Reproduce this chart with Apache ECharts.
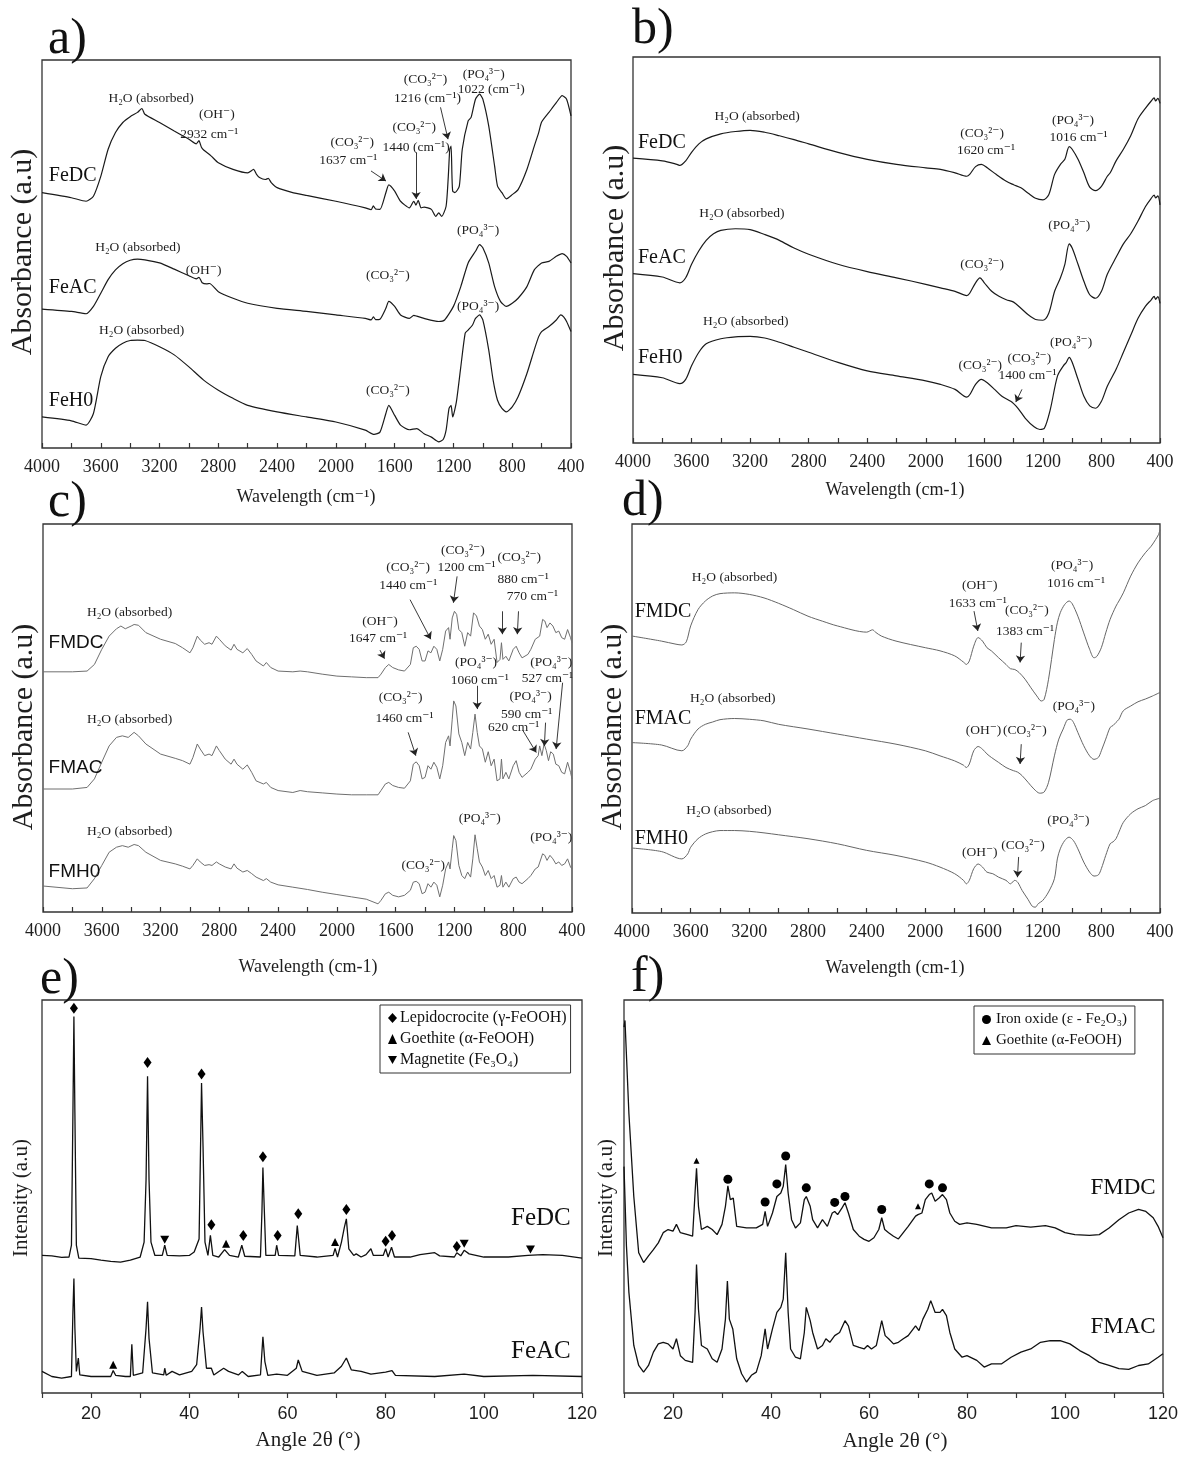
<!DOCTYPE html>
<html>
<head>
<meta charset="utf-8">
<script src="https://cdn.jsdelivr.net/npm/echarts@6/dist/echarts.min.js"></script>
<style>
  html, body { margin: 0; padding: 0; background: #fff; }
  #chart { width: 1182px; height: 1457px; }
</style>
</head>
<body>
<div id="chart"></div>
<script>
// ---------- FTIR spectra: [wavenumber cm-1, absorbance (a.u., offset)] ----------
const aFeDC = [[4000,65.8],[3800,64.5],[3700,63.6],[3650,64.9],[3600,70],[3550,77],[3500,81.3],[3450,83.9],[3400,85.4],[3350,86.5],[3320,87.5],[3300,86],[3200,83.9],[3100,81.7],[3000,79.6],[2950,78.4],[2932,79.2],[2915,77.5],[2900,76.8],[2850,75.3],[2800,73.5],[2700,71.8],[2600,70.9],[2560,71.8],[2540,70.5],[2520,69.7],[2480,69.2],[2460,69.5],[2440,68.4],[2400,67.1],[2300,65.9],[2200,65.1],[2000,63.6],[1800,61.9],[1760,61.4],[1745,62.4],[1730,61.6],[1700,61.5],[1660,65.8],[1640,67.8],[1600,66.2],[1560,63.6],[1500,61.9],[1470,63.6],[1455,62.6],[1440,63.8],[1420,61.9],[1400,62.1],[1350,61.5],[1320,59.7],[1300,60.6],[1280,59.7],[1250,62.3],[1235,70],[1225,77],[1216,77.8],[1210,70],[1205,66.2],[1190,65.8],[1160,67.5],[1140,77],[1100,84.3],[1080,85.2],[1050,89.9],[1022,91.2],[1000,89.9],[960,83],[920,72.7],[900,67.5],[870,65.8],[840,64.2],[800,65.3],[760,66.6],[700,71.8],[650,77.8],[620,81.3],[600,84],[550,86.5],[500,89],[460,90.8],[430,89.9],[400,85.6]];
const aFeAC = [[4000,35.8],[3800,35.2],[3700,34.6],[3650,36.5],[3600,39.9],[3550,43.4],[3500,45.9],[3450,47.5],[3400,48.4],[3350,48.7],[3300,48.5],[3200,47.7],[3100,46.1],[3000,44.4],[2950,43.6],[2932,44],[2910,42.6],[2880,42.3],[2860,42.4],[2800,40.3],[2700,38.6],[2600,37.3],[2400,36],[2200,35.2],[2000,34.3],[1800,33.4],[1760,33],[1745,33.8],[1730,33.1],[1700,33.2],[1660,36],[1640,37.8],[1600,36.5],[1560,34.3],[1500,33.4],[1470,34.2],[1450,34],[1400,33.4],[1300,32.6],[1260,33],[1200,36.5],[1150,41.6],[1100,47.7],[1050,50.7],[1022,52.4],[1000,51.6],[960,47.7],[920,41.6],[880,37.8],[840,36.5],[800,37.3],[760,38.6],[700,41.6],[650,45.9],[600,47.7],[550,48.1],[500,49.4],[460,50.1],[430,49.4],[400,47.7]];
const aFeH0 = [[4000,8],[3800,7],[3700,5.9],[3650,8.9],[3600,18.4],[3550,23.5],[3500,25.7],[3450,27],[3400,27.7],[3350,27.8],[3300,27.7],[3200,26.1],[3100,24],[3000,20.9],[2900,17.5],[2800,14.9],[2700,12.8],[2600,11],[2400,9.3],[2200,8],[2000,6.7],[1800,4.6],[1740,3.5],[1700,4.1],[1660,8.9],[1640,11],[1600,8.4],[1560,5.9],[1500,4.7],[1450,5],[1400,3.7],[1350,2.8],[1300,1.6],[1270,2.2],[1250,4.6],[1230,10.2],[1216,11],[1205,8],[1180,11.9],[1150,20.9],[1120,29.6],[1100,30.4],[1070,31.7],[1050,33.4],[1022,34.3],[1000,33],[960,25.3],[930,17.5],[900,12.3],[870,10.2],[840,9.3],[800,10.6],[760,13.2],[700,19.2],[650,25.3],[620,28.7],[600,30],[550,31.3],[500,33],[470,34.3],[450,33.8],[430,32.6],[400,30]];

const bFeDC = [[4000,73.8],[3800,73.1],[3700,72.2],[3680,71.9],[3640,73.1],[3600,75.3],[3550,77.5],[3500,78.8],[3400,80.1],[3300,80.7],[3200,81],[3100,80.5],[3000,79.6],[2900,78.6],[2800,77.5],[2600,75.3],[2400,73.5],[2200,72.2],[2000,71.3],[1900,70.9],[1800,70],[1720,69.1],[1700,69.6],[1660,71.6],[1620,72.2],[1580,71.3],[1520,69.6],[1450,67.8],[1400,66.9],[1350,66.1],[1300,64.7],[1250,63.4],[1200,63],[1160,64.3],[1120,69.6],[1080,72.2],[1050,73.5],[1020,76.8],[1000,76.1],[960,73.5],[920,70],[880,66.3],[840,65.4],[800,66.5],[760,69.1],[740,70],[700,73.1],[650,76.1],[600,79.6],[550,84],[500,86.7],[460,88.6],[440,89.4],[430,88.6],[415,89.3],[400,88]];
const bFeAC = [[4000,43.9],[3800,43],[3680,41.5],[3640,42.8],[3600,46.3],[3550,49.8],[3500,52.5],[3450,54.2],[3400,55.1],[3300,55.5],[3200,55.3],[3100,54],[3000,52.5],[2900,50.5],[2800,48.9],[2600,46.3],[2400,44.4],[2200,42.8],[2000,41.1],[1900,40.2],[1800,39.3],[1720,38.2],[1700,38.8],[1660,41.5],[1630,42.8],[1600,41.5],[1550,39.3],[1500,38],[1450,37.1],[1400,36.5],[1350,34.9],[1300,33.2],[1250,32],[1200,31.8],[1160,33.6],[1120,39.3],[1080,42.8],[1050,46.3],[1020,51.6],[1000,50.5],[960,46.3],[920,41.9],[880,38.4],[840,37.5],[800,39.3],[760,43.7],[700,48.1],[650,51.6],[600,54.2],[550,57.5],[500,61.2],[460,63.4],[440,64.2],[430,63.5],[415,64],[400,61.7]];
const bFeH0 = [[4000,17.8],[3800,16.9],[3680,15.4],[3640,16.5],[3600,20],[3550,23.5],[3500,25.7],[3400,27],[3300,27.5],[3200,27.6],[3100,27.2],[3000,26.1],[2900,24.8],[2800,23.5],[2600,20.9],[2400,18.7],[2200,17.4],[2000,16.1],[1900,15.2],[1800,13.9],[1720,11.9],[1700,12.5],[1660,15.2],[1620,16.5],[1580,15.6],[1530,13.9],[1480,12.1],[1420,10.8],[1400,10.2],[1370,9],[1320,6.4],[1260,4.2],[1220,3.5],[1190,3.8],[1150,8.6],[1100,17.4],[1060,20],[1040,20.9],[1020,22.2],[1000,20.9],[960,16.5],[920,12.1],[880,9.6],[840,9],[800,10.8],[760,14.7],[700,19.1],[650,23.5],[600,27.9],[550,32.3],[500,35.4],[460,37.1],[440,38],[430,37.2],[415,37.9],[400,36.2]];

const cFMDC = [[4000,61.9],[3800,61.9],[3700,62.1],[3650,63.8],[3600,67.7],[3550,71.1],[3500,73],[3470,73.7],[3440,73],[3400,73.7],[3380,74.1],[3350,73.9],[3300,72],[3200,70.3],[3100,69.2],[3050,68.1],[3000,66.8],[2980,68.1],[2950,71.1],[2930,70.1],[2900,69],[2870,69.4],[2850,69],[2820,71.1],[2800,70.3],[2760,68.6],[2720,67.5],[2700,69],[2680,67.7],[2640,66.8],[2610,67.9],[2580,66.4],[2550,64.7],[2500,63.4],[2480,64.3],[2450,63],[2400,62.1],[2300,61.9],[2250,62.1],[2200,61.9],[2100,61.3],[2000,60.8],[1900,60.6],[1800,60.4],[1720,60.4],[1700,61.3],[1670,63],[1647,63.8],[1620,63],[1580,62.4],[1540,62.1],[1500,63.8],[1480,68.1],[1460,68.5],[1440,67.7],[1420,64.7],[1400,64.7],[1380,67.3],[1360,66.8],[1340,68.5],[1320,67.7],[1300,64.7],[1280,67.7],[1260,72.4],[1240,73.3],[1230,70.3],[1215,75.8],[1200,77.5],[1185,76.7],[1170,72.8],[1150,72],[1130,68.5],[1110,72],[1090,71.1],[1070,77.1],[1050,76.3],[1030,73.7],[1010,72.8],[990,70.3],[970,71.6],[950,69],[930,70.3],[910,64.3],[890,65.1],[880,69.4],[870,65.1],[850,65.9],[830,64.7],[800,67.7],[780,68.5],[760,66.8],[740,65.5],[700,66.4],[680,67.7],[650,70.3],[620,71.1],[600,75.4],[585,75],[570,73.3],[550,74.5],[530,73.7],[510,72],[490,72.4],[470,70.7],[450,70.3],[430,72.8],[410,70.7],[400,69.4]];
const cFMAC = [[4000,31.7],[3800,31.7],[3700,32.1],[3650,34.3],[3600,38.6],[3550,42.8],[3500,45],[3460,45.4],[3420,45],[3380,46.3],[3350,45.4],[3300,43.3],[3200,40.7],[3100,39.6],[3050,39],[3000,38.1],[2980,39.8],[2950,43.3],[2930,42],[2900,40.3],[2870,40.7],[2850,40.3],[2820,42.8],[2800,41.6],[2760,39.4],[2720,38.1],[2700,39.4],[2680,38.1],[2640,36.8],[2610,37.9],[2580,36],[2550,33.8],[2500,33],[2480,33.4],[2450,32.1],[2400,31.3],[2300,30.8],[2250,31.3],[2200,31],[2100,30.7],[2000,30.4],[1900,30.2],[1800,30.2],[1720,30.2],[1700,31.3],[1670,33],[1647,33.4],[1620,32.6],[1580,32.1],[1540,31.9],[1500,33.8],[1480,38.1],[1460,38.7],[1440,37.7],[1420,34.3],[1400,34.7],[1380,37.7],[1360,36.8],[1340,38.6],[1320,37.3],[1300,34.3],[1280,37.7],[1260,43.7],[1240,45.4],[1230,42.8],[1215,49.7],[1205,54.4],[1190,53.1],[1170,45.9],[1150,43.7],[1130,40.3],[1110,43.7],[1090,42],[1075,46.3],[1060,51],[1045,46.3],[1030,42.8],[1010,42],[990,38.6],[970,41.3],[950,37.7],[930,39.4],[910,33.8],[890,34.3],[880,39.4],[870,34.3],[850,36],[830,34.3],[800,37.7],[780,39],[760,36],[740,34.7],[700,36],[680,36.8],[650,39.4],[630,40.3],[620,42.8],[605,40.3],[590,43.3],[575,41.6],[560,39],[545,41.3],[527,40.7],[510,38.1],[490,37.7],[470,36],[450,35.6],[430,38.6],[410,36],[400,34.3]];
const cFMH0 = [[4000,6.7],[3800,6],[3700,6.2],[3650,8.6],[3600,12],[3550,15.4],[3500,16.7],[3460,17.1],[3420,16.7],[3380,17.4],[3350,17.1],[3300,15.4],[3200,13.3],[3100,12.4],[3050,11.8],[3000,11.1],[2980,12],[2950,13.7],[2930,12.9],[2900,12],[2870,12.2],[2850,12],[2820,12.9],[2800,12.4],[2760,11.6],[2720,11.1],[2700,12.4],[2680,11.3],[2640,10.3],[2610,10.7],[2580,9.9],[2550,9],[2500,8.1],[2480,8.6],[2450,7.7],[2400,7],[2300,6.4],[2200,5.8],[2100,5.1],[2000,4.5],[1900,3.9],[1800,3.3],[1720,2.1],[1700,3],[1670,4.7],[1647,5.1],[1620,4.3],[1580,3.9],[1540,4.3],[1500,5.6],[1480,7.7],[1460,7.9],[1440,7.3],[1420,4.7],[1400,5.1],[1380,7.3],[1360,6.4],[1340,7.7],[1320,6.9],[1300,3.9],[1280,6.9],[1260,11.1],[1240,12.9],[1230,11.1],[1215,16.3],[1205,19.7],[1190,18.4],[1170,12],[1150,9.4],[1130,8.6],[1110,10.3],[1090,9],[1075,13.7],[1060,19.9],[1045,16.3],[1030,12.9],[1010,11.6],[990,9.4],[970,10.7],[950,8.6],[930,9.4],[910,6.4],[890,6.9],[880,9.4],[870,6.4],[850,7.7],[830,6.4],[800,8.6],[780,9],[760,7.7],[740,7.3],[700,8.6],[680,9.4],[650,11.1],[630,11.6],[600,15],[585,14.6],[570,13.3],[550,14.6],[530,13.7],[510,12.4],[490,12.9],[470,12],[450,12.4],[430,13.7],[410,11.6],[400,11.1]];

const dFMDC = [[4000,71.2],[3800,69.9],[3700,69.1],[3660,68.9],[3630,69.7],[3600,73.8],[3550,78],[3500,80.2],[3450,81.5],[3400,82.1],[3300,82.3],[3200,81.9],[3100,81],[3000,79.6],[2900,78],[2800,76.3],[2700,75],[2600,73.8],[2400,72.2],[2360,72.8],[2340,72.2],[2300,71.2],[2200,69.9],[2000,68.2],[1900,67.4],[1800,66.1],[1740,64.5],[1720,63.9],[1700,64.8],[1670,68.6],[1640,70.8],[1610,69.9],[1580,68.2],[1550,67.4],[1500,65.6],[1450,63.9],[1420,62.8],[1390,62.6],[1360,61.8],[1320,60.1],[1280,57.9],[1240,55.8],[1210,54.5],[1190,54.9],[1160,60.1],[1120,70.3],[1100,74.6],[1080,77.2],[1050,79.3],[1020,80.2],[1000,79.6],[960,76.3],[920,72],[880,67.8],[850,65.6],[830,66],[800,68.2],[770,72],[740,75.5],[700,78.9],[680,80.2],[650,82.3],[600,86.6],[550,90],[500,92.6],[460,94.3],[430,96],[410,97.3],[400,98.5]];
const dFMAC = [[4000,43.8],[3800,43.2],[3660,41.7],[3620,43],[3600,44.7],[3550,47.3],[3500,48.5],[3450,49.1],[3400,49.7],[3300,50],[3200,49.8],[3100,49.4],[3000,48.5],[2800,47.3],[2600,46],[2400,44.7],[2200,43.4],[2000,41.7],[1900,40.4],[1800,39.1],[1740,38],[1720,37.4],[1700,38.3],[1670,41.7],[1640,42.8],[1610,42.1],[1580,40.9],[1550,40],[1500,38.7],[1450,37.4],[1400,36.6],[1370,36.2],[1340,35.3],[1300,33.6],[1260,31.9],[1220,30.8],[1190,31.1],[1160,33.6],[1120,40.4],[1090,44.7],[1060,47.3],[1030,49.7],[1010,49.8],[990,49],[960,46.4],[920,43],[880,40.4],[850,39.5],[820,40],[800,41.7],[770,44.7],[740,47.7],[720,48.2],[700,49],[680,49.8],[650,52],[600,53.2],[550,54.3],[500,55],[450,55.8],[400,56.7]];
const dFMH0 = [[4000,16.7],[3800,15.8],[3660,13.9],[3620,15.2],[3600,16.9],[3550,19.1],[3500,20.3],[3450,20.9],[3400,21.2],[3300,21.2],[3200,21],[3100,20.6],[3000,20.1],[2800,19.1],[2600,17.8],[2400,16.1],[2200,14.8],[2000,13.1],[1900,11.8],[1800,10.1],[1740,8.4],[1720,7.5],[1700,8.4],[1670,11.4],[1640,12.6],[1610,11.8],[1580,10.5],[1540,10.1],[1500,9.2],[1450,8.4],[1420,7.5],[1390,8.4],[1370,7.9],[1340,5.8],[1300,3.5],[1270,1.7],[1250,1.5],[1230,2.4],[1200,3.2],[1160,5.4],[1120,8.8],[1100,13.9],[1080,16.5],[1050,18.6],[1020,19.5],[990,18.6],[960,16.5],[920,13.1],[880,10.5],[850,9.5],[820,9.8],[800,11.4],[770,14.8],[740,17.8],[720,18.3],[700,19.1],[680,20.8],[650,23.3],[600,25.5],[550,26.8],[500,27.6],[450,28.9],[400,29.5]];

// ---------- XRD patterns: [2θ (deg), intensity (a.u., offset)] ----------
const eFeDC = [[10,35],[12,34.9],[14,34.5],[15.5,34.6],[16,37.6],[16.3,71.3],[16.5,95.8],[16.7,71.3],[17,37.6],[17.5,34.3],[20,34.2],[22,33.8],[24,33.5],[26,33.3],[28,33.8],[30,34.6],[30.8,38.4],[31.2,54.4],[31.5,80.6],[31.8,54.4],[32.2,38.4],[33,35],[34.5,35],[35,37.6],[35.5,35],[38,34.9],[40,35],[41,35.9],[42,39.2],[42.3,62.9],[42.5,78.9],[42.8,62.9],[43.2,38.4],[43.8,35],[44.3,40.1],[44.5,40.3],[44.8,35],[46,34.6],[47.2,36.5],[47.5,36.7],[48.2,35],[50,34.6],[50.7,37.6],[51,37.6],[51.3,34.8],[54.5,34.6],[54.8,46],[55,57.4],[55.3,46],[55.6,35],[57.5,35],[57.8,37.6],[58.2,35],[61.5,34.9],[62,42.6],[62.2,43],[62.6,35],[66,34.6],[69.3,35],[69.7,36.8],[70.2,34.6],[71,38.4],[71.6,42.2],[72,44.3],[72.5,36.7],[73.5,35],[74,35.4],[75,34.6],[76,35.2],[77,36.7],[77.5,35],[79.5,35],[80,36.7],[80.5,34.6],[81.2,37.1],[81.8,34.6],[85,34.6],[87,35.2],[90,35.7],[91,34.9],[94,34.6],[94.5,35.7],[95.3,34.9],[96,36.3],[97,35.4],[100,34.6],[105,34.6],[109,35],[112,35.2],[116,35],[120,34.3]];
const eFeAC = [[10,5.5],[12,4.2],[14,3.8],[16,4.2],[16.3,20.7],[16.5,29.1],[16.7,16.5],[17,5.5],[17.4,8.9],[17.7,4.6],[20,4.2],[24,4.2],[24.5,5.7],[25,4.5],[27,4.2],[28,4.2],[28.3,12.4],[28.6,4.5],[30.5,5.1],[31.2,16.5],[31.5,23.2],[31.8,13.9],[32.5,5.1],[34.8,4.6],[35,6.3],[35.3,4.5],[36.5,5.5],[38,4.6],[40.5,5.5],[41.5,7.2],[42.2,16.5],[42.5,21.9],[42.8,15.6],[43.5,6.3],[44.5,6.3],[45,4.6],[47,6.3],[48,5.5],[50,4.6],[50.8,5.5],[52,4.2],[54.5,4.6],[55,14.3],[55.4,8],[56,4.5],[57.8,4.8],[60,4.5],[61.8,6.3],[62.2,8.4],[63,5.5],[66,4.5],[69.5,5.1],[71,6.8],[72,8.9],[73,5.9],[75,5.5],[77,4.8],[80,5.3],[81.3,5.7],[82,4.5],[90,4.2],[96,4.8],[100,4.2],[110,4.5],[120,4.2]];
const fFMDC = [[10,93.1],[10.2,94.8],[11,71.1],[12,50],[13,35.7],[14,33.2],[15,34.9],[16,36.5],[17,38.2],[18,40.8],[19,41.6],[20,41.2],[20.7,42.9],[21.5,40.8],[23,40.3],[24,39.9],[24.5,50.9],[24.8,57.2],[25.2,47.5],[25.8,41.6],[27,42.4],[28,41.6],[29,40.3],[30,42.9],[30.7,47.5],[31.2,52.7],[31.7,49.2],[32.3,49.6],[33,42.4],[35,42],[37,42],[38.3,42.9],[38.8,46.2],[39.3,42.4],[40.3,45.8],[41.2,50],[42,50.9],[42.5,52.6],[43,58.1],[43.5,50.9],[44.2,44.1],[45,42],[46,43.3],[46.8,49.2],[47.2,50],[48,47.5],[48.5,44.1],[49.5,42],[50.5,44.1],[51.5,42.4],[52.5,45.8],[53,46.2],[53.6,45.4],[54.5,47.1],[55.1,48.4],[55.8,45.8],[56.8,41.6],[58,39.9],[59,39.1],[60,38.6],[61,39.5],[62,41.6],[62.6,44.6],[63.2,41.6],[64,40.8],[65,39.9],[66,39.2],[67,40.8],[68,42.4],[69.5,45],[70,45.4],[70.8,45.8],[71.5,49.2],[72.3,50.5],[72.8,50.9],[73.5,48.8],[74.3,49.6],[75,50.5],[75.8,49.2],[76.5,45.8],[77.5,43.7],[78.5,42.9],[80,43.3],[82,42.9],[85,42],[88,42],[90,42.6],[93,42.2],[96,42.6],[98,42],[100,40.8],[102,40.3],[105,40.1],[107,40.3],[109,42],[111,44.1],[113,45.8],[115,46.7],[116.5,46.2],[118,44.6],[119,42.4],[120,39.5]];
const fFMAC = [[10,57.6],[10.5,37.4],[11,25.6],[12,12.1],[13,7],[14,5.3],[15,7],[16,10.4],[17,12.5],[18,12.9],[19,12.5],[20,11.2],[20.7,13.8],[21.5,9.5],[22.5,8.3],[24,7.8],[24.5,20.5],[24.8,32.7],[25.2,21.3],[25.8,12.1],[27,11.2],[28,8.7],[29,7.8],[30,11.2],[30.7,18.8],[31.1,28.5],[31.5,18.8],[32.2,16.3],[33,8.7],[34,4.9],[35,2.8],[36,4.5],[37,5.3],[38,9.5],[38.8,16.3],[39.3,11.2],[40.3,16.3],[41.2,20.5],[42,21.8],[42.5,23.9],[43,35.7],[43.5,20.5],[44,11.2],[45,9.1],[46,8.7],[46.8,15.4],[47.2,21.8],[48,18.4],[48.5,15.4],[49.5,11.2],[50.5,12.1],[51.2,13.8],[52,12.9],[53,14.6],[54,15.4],[55.1,18.4],[55.8,17.1],[56.8,12.1],[58,11.6],[59,11.2],[59.7,12.1],[60.5,11.2],[61.5,12.1],[62.6,18.4],[63.3,14.6],[64,13.8],[65,12.5],[66,12.9],[67,13.8],[68,14.6],[69.5,17.1],[70.2,15.9],[71,18.8],[72,21.3],[72.6,23.5],[73.5,20.5],[74.5,20.5],[75,21.3],[75.8,19.7],[76.5,15.4],[77.5,11.2],[79,9.1],[80,9.5],[82,8.3],[83.5,6.6],[85,7.4],[87,7.4],[89,9.1],[91,10.4],[93,11.2],[95,12.9],[97,13.3],[99,13.3],[101,12.5],[103,10.8],[105,9.5],[107,7.8],[109,7],[111,6.2],[113,6],[115,7],[117,7.4],[119,9.1],[120,10]];

// ---------- XRD phase markers: [2θ, height of marker] ----------
const eLepidocrocite = [[16.5,97.9],[31.5,84.1],[42.5,81.2],[44.5,42.8],[51,40.1],[55,60.1],[58,40.1],[62.2,45.6],[72,46.7],[80,38.6],[81.3,40.1],[94.5,37.3]];
const eGoethite = [[47.5,38],[69.7,38.4],[24.5,7.2]];
const eMagnetite = [[35,39],[96,38],[109.5,36.5]];
const fIronOxide = [[31.2,54.4],[38.8,48.6],[41.2,53.2],[43,60.3],[47.2,52.2],[53,48.5],[55.1,50],[62.6,46.7],[72.3,53.2],[75,52.2]];
const fGoethite = [[24.8,59.1],[70,47.5]];

// ---------- band assignments: [wavenumber, height, text] ----------
const aNotes = [[3258,90.1,'H₂O (absorbed)'],[2810,86,'(OH⁻)'],[2861,80.9,'2932 cm⁻¹'],[1889,78.7,'(CO₃²⁻)'],[1915,74,'1637 cm⁻¹'],[1467,82.6,'(CO₃²⁻)'],[1454,77.4,'1440 (cm⁻¹)'],[1390,95.1,'(CO₃²⁻)'],[1377,90.1,'1216 (cm⁻¹)'],[994,96.4,'(PO₄³⁻)'],[943,92.5,'1022 (cm⁻¹)'],
  [3348,51.6,'H₂O (absorbed)'],[2900,45.8,'(OH⁻)'],[1646,44.4,'(CO₃²⁻)'],[1032,56.1,'(PO₄³⁻)'],
  [3322,30.2,'H₂O (absorbed)'],[1646,14.9,'(CO₃²⁻)'],[1032,36.5,'(PO₄³⁻)']];
const bNotes = [[3152,84.5,'H₂O (absorbed)'],[1615,80.1,'(CO₃²⁻)'],[1589,75.7,'1620 cm⁻¹'],[994,83.6,'(PO₄³⁻)'],[956,79.2,'1016 cm⁻¹'],
  [3256,59.5,'H₂O (absorbed)'],[1615,46.3,'(CO₃²⁻)'],[1020,56.4,'(PO₄³⁻)'],
  [3230,31.4,'H₂O (absorbed)'],[1628,20,'(CO₃²⁻)'],[1292,21.8,'(CO₃²⁻)'],[1305,17.4,'1400 cm⁻¹'],[1007,26.1,'(PO₄³⁻)']];
const cNotes = [[3411,77.1,'H₂O (absorbed)'],[1707,75,'(OH⁻)'],[1720,70.4,'1647 cm⁻¹'],[1515,88.9,'(CO₃²⁻)'],[1515,84.1,'1440 cm⁻¹'],[1143,93.2,'(CO₃²⁻)'],[1117,88.9,'1200 cm⁻¹'],[759,91.5,'(CO₃²⁻)'],[733,85.7,'880 cm⁻¹'],[669,81.2,'770 cm⁻¹'],
  [3411,49.7,'H₂O (absorbed)'],[1566,55.3,'(CO₃²⁻)'],[1540,49.9,'1460 cm⁻¹'],[1053,64.4,'(PO₄³⁻)'],[1028,59.8,'1060 cm⁻¹'],[541,64.4,'(PO₄³⁻)'],[567,60.2,'527 cm⁻¹'],[682,55.5,'(PO₄³⁻)'],[708,51,'590 cm⁻¹'],[797,47.6,'620 cm⁻¹'],
  [3411,20.8,'H₂O (absorbed)'],[1412,12,'(CO₃²⁻)'],[1028,24,'(PO₄³⁻)'],[541,19.3,'(PO₄³⁻)']];
const dNotes = [[3301,86.2,'H₂O (absorbed)'],[1629,84.2,'(OH⁻)'],[1642,79.6,'1633 cm⁻¹'],[1308,77.9,'(CO₃²⁻)'],[1321,72.5,'1383 cm⁻¹'],[999,89.3,'(PO₄³⁻)'],[973,84.7,'1016 cm⁻¹'],
  [3313,55.1,'H₂O (absorbed)'],[1603,46.8,'(OH⁻)'],[1321,46.8,'(CO₃²⁻)'],[987,53.2,'(PO₄³⁻)'],
  [3339,26.3,'H₂O (absorbed)'],[1629,15.6,'(OH⁻)'],[1334,17.4,'(CO₃²⁻)'],[1025,23.8,'(PO₄³⁻)']];

// pointer arrows: [from wn, from y, to wn, to y]
const aArrows = [[1761,71.4,1659,68.8],[1454,76.2,1454,64.2],[1288,87.8,1237,79.6]];
const bArrows = [[1343,13.9,1385,10.6]];
const cArrows = [[1707,67.5,1676,65.3],[1502,80.5,1361,70.3],[1182,86.5,1207,79.7],[874,77.5,874,71.6],[764,77.5,772,71.6],[1515,46.3,1463,40.3],[1045,58.3,1045,52.3],[733,46.7,643,41.1],[580,48.8,588,42.8],[464,59.1,508,42]];
const dArrows = [[1668,77.6,1642,72.5],[1346,69.5,1354,64.4],[1346,43.4,1354,38.3],[1364,14.4,1372,9.2]];

// sample names: [x, y, text]
const aSamples = [[3954,70.1,'FeDC'],[3954,41.2,'FeAC'],[3954,12.3,'FeH0']];
const bSamples = [[3966,77.9,'FeDC'],[3966,48.1,'FeAC'],[3966,22.2,'FeH0']];
const cSamples = [[3962,69.4,'FMDC'],[3962,37.3,'FMAC'],[3962,10.3,'FMH0']];
const dSamples = [[3982,77.4,'FMDC'],[3982,50,'FMAC'],[3982,19.2,'FMH0']];
const eSamples = [[117.7,44.5,'FeDC'],[117.7,10.5,'FeAC']];
const fSamples = [[118.5,52.2,'FMDC'],[118.5,16.7,'FMAC']];

// ---------- drawing ----------
const SERIF = '"Liberation Serif","DejaVu Serif",serif';
const SANS = '"Liberation Sans","DejaVu Sans",sans-serif';
const INK = '#1e1e1e';

const boxes = [
  { left: 42,  top: 60,   width: 529, height: 388 },
  { left: 633, top: 57,   width: 527, height: 386 },
  { left: 43,  top: 524,  width: 529, height: 388 },
  { left: 632, top: 524,  width: 528, height: 389 },
  { left: 42,  top: 1000, width: 540, height: 393 },
  { left: 624, top: 1000, width: 539, height: 393 }
];

const grid = boxes.map(b => Object.assign({
  show: true, borderColor: '#333', borderWidth: 1.3,
  containLabel: false, outerBoundsMode: 'none'
}, b));

function ftirAxis(i) {
  return {
    gridIndex: i, type: 'value', min: 400, max: 4000, interval: 400, inverse: true,
    axisLine: { show: false },
    axisTick: { show: true, inside: true, length: 5, lineStyle: { color: '#333', width: 1.2 } },
    minorTick: { show: true, splitNumber: 2, length: 5, lineStyle: { color: '#333', width: 1.2 } },
    splitLine: { show: false },
    axisLabel: { fontFamily: SERIF, fontSize: 18, color: INK, margin: 10, formatter: v => String(v) }
  };
}
function xrdAxis(i) {
  return {
    gridIndex: i, type: 'value', min: 10, max: 120, interval: 10,
    axisLine: { show: false },
    axisTick: { show: true, inside: false, length: 5, lineStyle: { color: '#333', width: 1.2 } },
    splitLine: { show: false },
    axisLabel: { fontFamily: SANS, fontSize: 18, color: INK, margin: 12,
      formatter: v => (v % 20 === 0 ? String(v) : '') }
  };
}

const xAxis = [ftirAxis(0), ftirAxis(1), ftirAxis(2), ftirAxis(3), xrdAxis(4), xrdAxis(5)];
const yAxis = boxes.map((b, i) => ({ gridIndex: i, type: 'value', min: 0, max: 100, show: false }));

function curve(i, data, color, width, smooth) {
  return {
    type: 'line', xAxisIndex: i, yAxisIndex: i, data: data,
    showSymbol: false, symbol: 'none', smooth: smooth || false, silent: true,
    lineStyle: { color: color, width: width }, z: 3
  };
}

function notes(i, list, arrows, fontSize) {
  const s = {
    type: 'scatter', xAxisIndex: i, yAxisIndex: i, silent: true, z: 5,
    symbolSize: 1, itemStyle: { color: 'rgba(0,0,0,0)', opacity: 1 },
    emphasis: { disabled: true },
    label: { show: true, position: 'inside', fontFamily: SERIF, fontSize: fontSize, color: INK, opacity: 1 },
    data: list.map(n => ({ value: [n[0], n[1]], label: { formatter: n[2] } }))
  };
  if (arrows && arrows.length) {
    s.markLine = {
      silent: true, symbol: ['none', 'arrow'], symbolSize: 7, animation: false,
      lineStyle: { color: '#222', width: 0.9, type: 'solid', opacity: 1 },
      label: { show: false }, emphasis: { disabled: true },
      data: arrows.map(a => [{ coord: [a[0], a[1]] }, { coord: [a[2], a[3]] }])
    };
  }
  return s;
}

function samples(i, list, font, size, align) {
  return {
    type: 'scatter', xAxisIndex: i, yAxisIndex: i, silent: true, z: 5,
    symbolSize: 1, itemStyle: { color: 'rgba(0,0,0,0)', opacity: 1 },
    emphasis: { disabled: true },
    label: { show: true, position: 'inside', align: align, fontFamily: font, fontSize: size, color: '#111', opacity: 1 },
    data: list.map(n => ({ value: [n[0], n[1]], label: { formatter: n[2] } }))
  };
}

function markers(i, name, data, symbol, size) {
  return {
    type: 'scatter', name: name, xAxisIndex: i, yAxisIndex: i, silent: true, z: 6,
    symbol: symbol, symbolSize: size, data: data,
    itemStyle: { color: '#000', opacity: 1 }, emphasis: { disabled: true }
  };
}

const DOWN_TRI = 'path://M0,0L10,0L5,9Z';

const series = [
  curve(0, aFeDC, '#1a1a1a', 1.2, 0.2), curve(0, aFeAC, '#1a1a1a', 1.2, 0.2), curve(0, aFeH0, '#1a1a1a', 1.2, 0.2),
  notes(0, aNotes, aArrows, 13.5), samples(0, aSamples, SERIF, 20, 'left'),

  curve(1, bFeDC, '#1a1a1a', 1.2, 0.3), curve(1, bFeAC, '#1a1a1a', 1.2, 0.3), curve(1, bFeH0, '#1a1a1a', 1.2, 0.3),
  notes(1, bNotes, bArrows, 13.5), samples(1, bSamples, SERIF, 20, 'left'),

  curve(2, cFMDC, '#6f6f6f', 1), curve(2, cFMAC, '#6f6f6f', 1), curve(2, cFMH0, '#6f6f6f', 1),
  notes(2, cNotes, cArrows, 13.5), samples(2, cSamples, SANS, 19, 'left'),

  curve(3, dFMDC, '#666', 1, 0.3), curve(3, dFMAC, '#666', 1, 0.3), curve(3, dFMH0, '#666', 1, 0.3),
  notes(3, dNotes, dArrows, 13.5), samples(3, dSamples, SERIF, 20, 'left'),

  curve(4, eFeDC, '#111', 1.3), curve(4, eFeAC, '#111', 1.3),
  markers(4, 'Lepidocrocite (γ-FeOOH)', eLepidocrocite, 'diamond', [8, 11]),
  markers(4, 'Goethite (α-FeOOH)', eGoethite, 'triangle', [8, 8]),
  markers(4, 'Magnetite (Fe₃O₄)', eMagnetite, DOWN_TRI, [9, 8]),
  samples(4, eSamples, SERIF, 25, 'right'),

  curve(5, fFMDC, '#111', 1.3), curve(5, fFMAC, '#111', 1.3),
  markers(5, 'Iron oxide (ε - Fe₂O₃)', fIronOxide, 'circle', 9),
  markers(5, 'Goethite (α-FeOOH) ', fGoethite, 'triangle', [6, 6]),
  samples(5, fSamples, SERIF, 23, 'right')
];

const legend = [
  {
    left: 380, top: 1005, orient: 'vertical', selectedMode: false,
    data: ['Lepidocrocite (γ-FeOOH)', 'Goethite (α-FeOOH)', 'Magnetite (Fe₃O₄)'],
    borderColor: '#333', borderWidth: 1, padding: [5, 4, 5, 8], itemGap: 5,
    itemWidth: 9, itemHeight: 10,
    textStyle: { fontFamily: SERIF, fontSize: 16, color: '#111', padding: [0, 0, 0, -2] }
  },
  {
    left: 974, top: 1006, orient: 'vertical', selectedMode: false,
    data: ['Iron oxide (ε - Fe₂O₃)', 'Goethite (α-FeOOH) '],
    borderColor: '#333', borderWidth: 1, padding: [6, 8, 6, 8], itemGap: 6,
    itemWidth: 9, itemHeight: 9,
    textStyle: { fontFamily: SERIF, fontSize: 15, color: '#111' }
  }
];

function txt(x, y, text, size, font, rot) {
  return {
    type: 'text', x: x, y: y, rotation: rot || 0, silent: true, z: 10,
    style: { text: text, fontSize: size, fontFamily: font, fill: INK,
      textAlign: 'center', textVerticalAlign: 'middle' }
  };
}
function letter(x, y, text) {
  return {
    type: 'text', x: x, y: y, silent: true, z: 10,
    style: { text: text, fontSize: 50, fontFamily: SERIF, fill: '#111',
      textAlign: 'left', textVerticalAlign: 'middle' }
  };
}

const graphic = [
  letter(48, 40, 'a)'), letter(632, 30, 'b)'), letter(48, 503, 'c)'),
  letter(622, 502, 'd)'), letter(40, 980, 'e)'), letter(631, 978, 'f)'),

  txt(306, 497, 'Wavelength (cm⁻¹)', 18, SERIF),
  txt(895, 490, 'Wavelength (cm-1)', 18, SERIF),
  txt(308, 967, 'Wavelength (cm-1)', 18, SERIF),
  txt(895, 968, 'Wavelength (cm-1)', 18, SERIF),
  txt(308, 1440, 'Angle 2θ (°)', 21, SERIF),
  txt(895, 1441, 'Angle 2θ (°)', 21, SERIF),

  txt(23, 252, 'Absorbance (a.u)', 30, SERIF, Math.PI / 2),
  txt(615, 248, 'Absorbance (a.u)', 30, SERIF, Math.PI / 2),
  txt(24, 727, 'Absorbance (a.u)', 30, SERIF, Math.PI / 2),
  txt(613, 727, 'Absorbance (a.u)', 30, SERIF, Math.PI / 2),
  txt(21, 1198, 'Intensity (a.u)', 21, SERIF, Math.PI / 2),
  txt(606, 1198, 'Intensity (a.u)', 21, SERIF, Math.PI / 2)
];

const chart = echarts.init(document.getElementById('chart'), null, { renderer: 'canvas' });
chart.setOption({
  backgroundColor: '#fff',
  animation: false,
  grid: grid,
  xAxis: xAxis,
  yAxis: yAxis,
  legend: legend,
  series: series,
  graphic: graphic
});
</script>
</body>
</html>
